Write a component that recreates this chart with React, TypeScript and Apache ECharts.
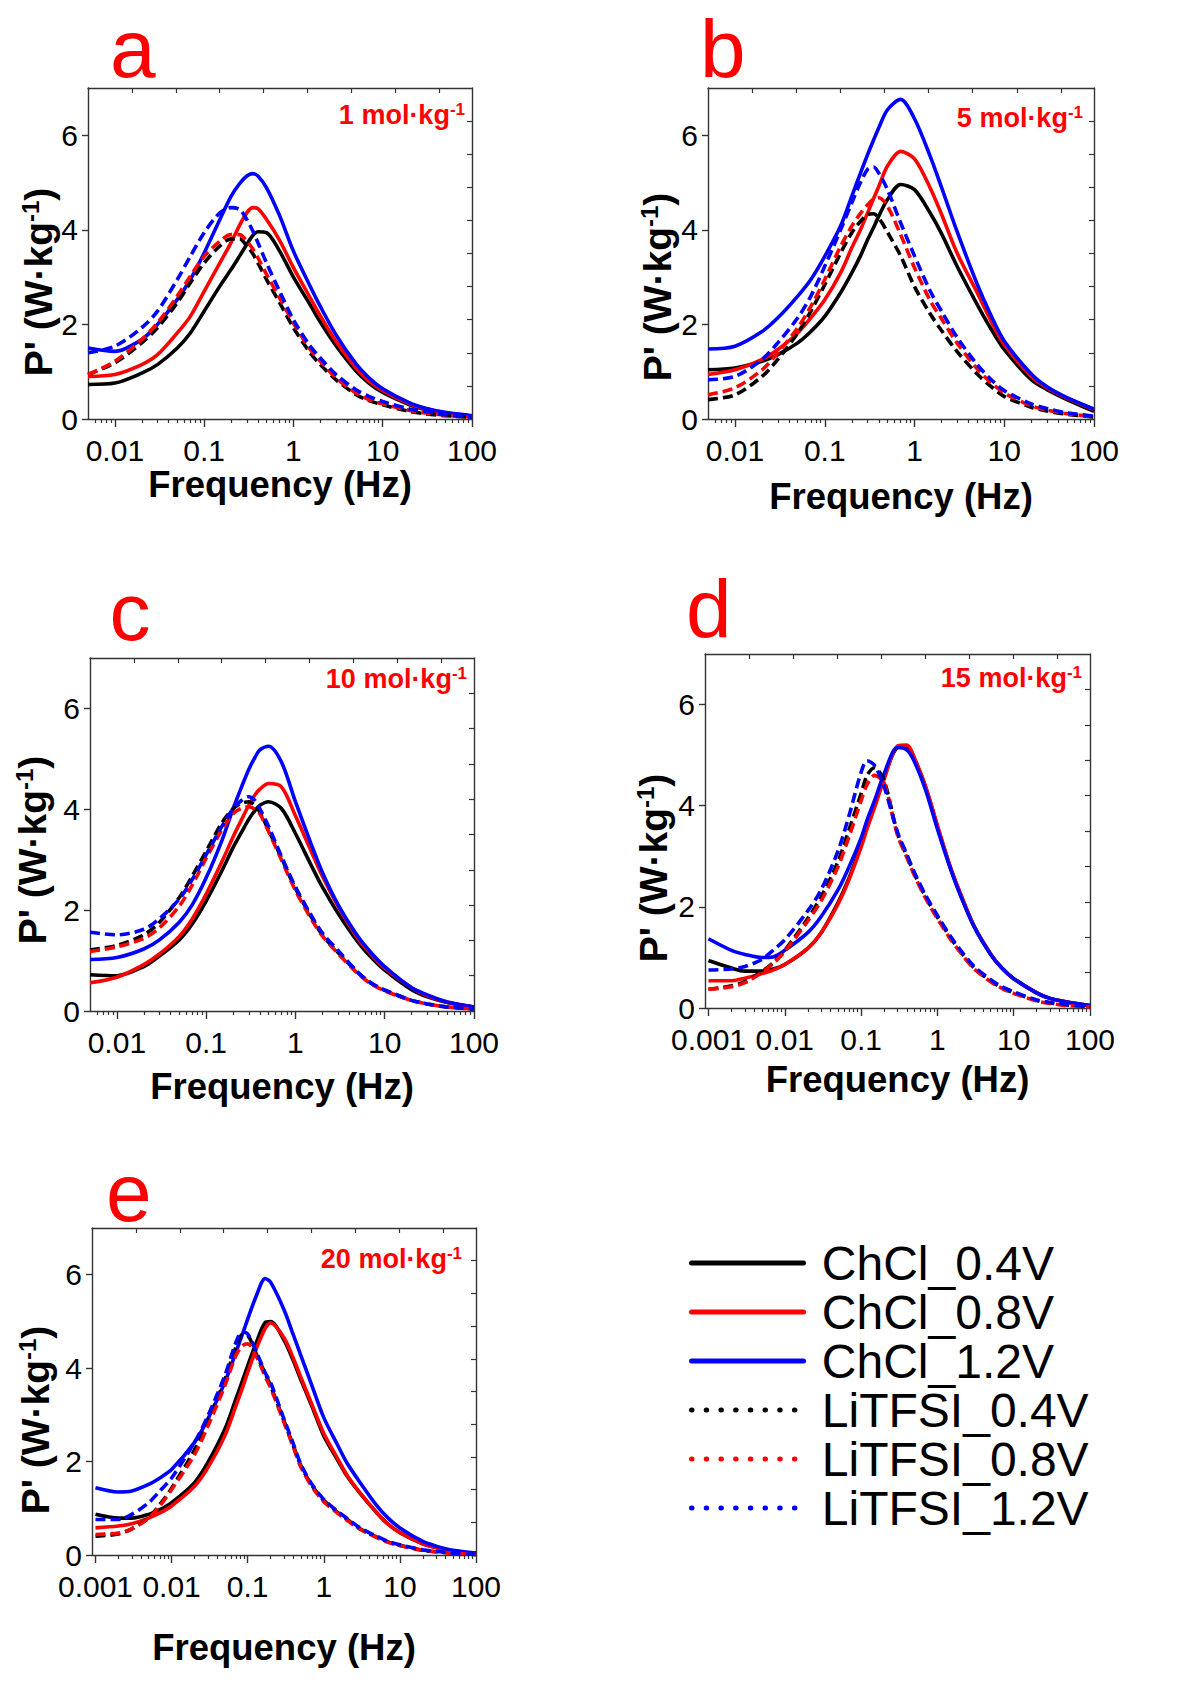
import React, { useEffect, useRef } from 'react';
import * as echarts from 'echarts';

const FONT = '"Liberation Sans", Arial, Helvetica, sans-serif';

// ---------------- data ----------------
const seriesNames = ['ChCl_0.4V', 'ChCl_0.8V', 'ChCl_1.2V', 'LiTFSI_0.4V', 'LiTFSI_0.8V', 'LiTFSI_1.2V'];
const panelLetters = ['a', 'b', 'c', 'd', 'e'];
const concentrations = ['1', '5', '10', '15', '20'];
const majorFreqs = [0.001, 0.01, 0.1, 1, 10, 100];
const majorLabels = ['0.001', '0.01', '0.1', '1', '10', '100'];
const yTickValues = [0, 2, 4, 6];

const freqABC = [0.005, 0.01, 0.02, 0.03, 0.05, 0.07, 0.1, 0.15, 0.2, 0.25, 0.3, 0.35, 0.4, 0.5, 0.7, 1, 1.5, 2, 3, 5, 7, 10, 20, 30, 50, 100];
const freqD = [0.001, 0.002, 0.003, 0.005, 0.007, 0.01, 0.02, 0.03, 0.05, 0.07, 0.1, 0.12, 0.15, 0.2, 0.3, 0.4, 0.5, 0.7, 1, 1.5, 2, 3, 5, 7, 10, 20, 30, 50, 100];
const freqE = [0.001, 0.002, 0.003, 0.005, 0.007, 0.01, 0.02, 0.03, 0.05, 0.07, 0.085, 0.1, 0.13, 0.17, 0.2, 0.3, 0.4, 0.5, 0.7, 1, 1.5, 2, 3, 5, 7, 10, 20, 30, 50, 100];

// panel a (1 mol/kg)
const chcl04A = [0.73, 0.76, 0.97, 1.15, 1.5, 1.82, 2.28, 2.81, 3.16, 3.45, 3.69, 3.88, 3.96, 3.94, 3.55, 3.0, 2.45, 2.05, 1.55, 1.02, 0.76, 0.56, 0.3, 0.2, 0.12, 0.06];
const chcl08A = [0.9, 0.94, 1.15, 1.36, 1.82, 2.17, 2.7, 3.3, 3.73, 4.1, 4.36, 4.47, 4.45, 4.22, 3.78, 3.2, 2.6, 2.18, 1.64, 1.08, 0.8, 0.6, 0.32, 0.22, 0.13, 0.06];
const chcl12A = [1.5, 1.43, 1.68, 2.0, 2.53, 2.95, 3.51, 4.22, 4.71, 4.98, 5.14, 5.19, 5.14, 4.89, 4.3, 3.55, 2.85, 2.38, 1.78, 1.17, 0.87, 0.64, 0.34, 0.23, 0.14, 0.07];
const li04A = [0.94, 1.19, 1.61, 1.93, 2.46, 2.88, 3.3, 3.66, 3.81, 3.81, 3.66, 3.5, 3.3, 2.95, 2.46, 1.93, 1.43, 1.15, 0.83, 0.52, 0.39, 0.3, 0.16, 0.11, 0.07, 0.04];
const li08A = [0.94, 1.22, 1.68, 2.03, 2.6, 3.02, 3.44, 3.76, 3.9, 3.9, 3.76, 3.6, 3.41, 3.06, 2.56, 2.03, 1.5, 1.22, 0.87, 0.55, 0.41, 0.32, 0.18, 0.13, 0.08, 0.04];
const li12A = [1.4, 1.54, 1.93, 2.28, 2.95, 3.44, 3.94, 4.36, 4.47, 4.43, 4.22, 3.98, 3.73, 3.3, 2.7, 2.1, 1.57, 1.29, 0.94, 0.62, 0.48, 0.37, 0.21, 0.16, 0.09, 0.04];

// panel b (5 mol/kg)
const chcl04B = [1.04, 1.08, 1.22, 1.36, 1.61, 1.85, 2.17, 2.67, 3.09, 3.45, 3.79, 4.05, 4.29, 4.64, 4.96, 4.85, 4.35, 3.92, 3.22, 2.42, 1.93, 1.47, 0.83, 0.62, 0.41, 0.16];
const chcl08B = [0.94, 1.04, 1.26, 1.47, 1.82, 2.14, 2.52, 3.09, 3.62, 4.0, 4.36, 4.66, 4.92, 5.35, 5.66, 5.5, 4.88, 4.33, 3.5, 2.67, 2.1, 1.57, 0.9, 0.66, 0.44, 0.2];
const chcl12B = [1.48, 1.54, 1.85, 2.14, 2.6, 2.95, 3.44, 4.08, 4.71, 5.2, 5.59, 5.9, 6.16, 6.54, 6.76, 6.35, 5.55, 4.9, 3.95, 2.85, 2.22, 1.65, 0.95, 0.68, 0.45, 0.21];
const li04B = [0.41, 0.51, 0.9, 1.26, 1.82, 2.28, 2.84, 3.51, 3.94, 4.18, 4.32, 4.34, 4.25, 3.95, 3.45, 2.8, 2.22, 1.87, 1.42, 0.95, 0.7, 0.48, 0.25, 0.17, 0.1, 0.04];
const li08B = [0.51, 0.66, 1.04, 1.4, 1.93, 2.38, 2.95, 3.65, 4.08, 4.35, 4.53, 4.65, 4.68, 4.5, 3.9, 3.2, 2.5, 2.12, 1.6, 1.06, 0.78, 0.55, 0.28, 0.19, 0.11, 0.05];
const li12B = [0.83, 0.9, 1.26, 1.61, 2.14, 2.6, 3.23, 4.0, 4.57, 5.0, 5.28, 5.33, 5.2, 4.85, 4.15, 3.45, 2.7, 2.28, 1.72, 1.15, 0.85, 0.6, 0.32, 0.22, 0.13, 0.06];

// panel c (10 mol/kg)
const chcl04C = [0.72, 0.7, 0.88, 1.09, 1.41, 1.73, 2.18, 2.78, 3.24, 3.55, 3.8, 3.97, 4.08, 4.15, 4.01, 3.52, 2.89, 2.46, 1.94, 1.37, 1.07, 0.81, 0.42, 0.28, 0.17, 0.08];
const chcl08C = [0.56, 0.67, 0.92, 1.13, 1.48, 1.83, 2.32, 2.96, 3.45, 3.8, 4.08, 4.28, 4.4, 4.51, 4.44, 3.87, 3.17, 2.68, 2.08, 1.44, 1.13, 0.85, 0.46, 0.3, 0.18, 0.08];
const chcl12C = [1.02, 1.06, 1.23, 1.41, 1.76, 2.11, 2.64, 3.38, 4.01, 4.45, 4.79, 5.02, 5.18, 5.25, 4.93, 4.15, 3.31, 2.75, 2.11, 1.48, 1.16, 0.88, 0.46, 0.32, 0.18, 0.08];
const li04C = [1.21, 1.3, 1.51, 1.76, 2.25, 2.68, 3.17, 3.73, 4.01, 4.12, 4.15, 4.08, 3.94, 3.59, 3.03, 2.43, 1.87, 1.51, 1.16, 0.76, 0.55, 0.41, 0.21, 0.14, 0.08, 0.04];
const li08C = [1.18, 1.27, 1.44, 1.65, 2.08, 2.5, 3.03, 3.59, 3.91, 4.02, 4.05, 4.0, 3.91, 3.56, 2.99, 2.39, 1.83, 1.49, 1.14, 0.74, 0.54, 0.4, 0.21, 0.14, 0.08, 0.04];
const li12C = [1.56, 1.51, 1.62, 1.83, 2.22, 2.61, 3.1, 3.66, 4.01, 4.18, 4.25, 4.18, 4.01, 3.66, 3.06, 2.46, 1.9, 1.55, 1.2, 0.77, 0.56, 0.42, 0.21, 0.14, 0.08, 0.04];

// panel d (15 mol/kg)
const chcl04D = [0.94, 0.79, 0.73, 0.73, 0.77, 0.86, 1.18, 1.49, 2.09, 2.58, 3.22, 3.58, 3.99, 4.56, 5.15, 5.17, 4.93, 4.37, 3.59, 2.75, 2.25, 1.63, 1.06, 0.79, 0.58, 0.3, 0.19, 0.12, 0.05];
const chcl08D = [0.54, 0.54, 0.59, 0.68, 0.75, 0.86, 1.18, 1.49, 2.06, 2.55, 3.18, 3.55, 3.96, 4.52, 5.18, 5.2, 4.94, 4.38, 3.61, 2.76, 2.27, 1.63, 1.07, 0.79, 0.58, 0.3, 0.19, 0.12, 0.05];
const chcl12D = [1.37, 1.14, 1.06, 1.0, 1.01, 1.14, 1.49, 1.81, 2.34, 2.8, 3.36, 3.72, 4.1, 4.63, 5.15, 5.1, 4.87, 4.31, 3.54, 2.73, 2.23, 1.62, 1.06, 0.79, 0.58, 0.3, 0.19, 0.12, 0.05];
const li04D = [0.37, 0.44, 0.52, 0.72, 0.89, 1.14, 1.77, 2.2, 2.9, 3.54, 4.24, 4.6, 4.75, 4.5, 3.45, 3.0, 2.65, 2.2, 1.8, 1.38, 1.12, 0.8, 0.53, 0.4, 0.3, 0.15, 0.1, 0.06, 0.03];
const li08D = [0.37, 0.42, 0.5, 0.7, 0.88, 1.12, 1.72, 2.12, 2.8, 3.4, 4.1, 4.42, 4.6, 4.45, 3.42, 2.97, 2.62, 2.17, 1.77, 1.35, 1.1, 0.78, 0.52, 0.39, 0.29, 0.14, 0.09, 0.05, 0.02];
const li12D = [0.75, 0.77, 0.82, 0.96, 1.14, 1.35, 1.92, 2.34, 3.11, 3.82, 4.66, 4.89, 4.8, 4.38, 3.48, 3.03, 2.68, 2.23, 1.83, 1.41, 1.15, 0.83, 0.56, 0.42, 0.32, 0.16, 0.11, 0.07, 0.03];

// panel e (20 mol/kg)
const chcl04E = [0.87, 0.79, 0.79, 0.87, 0.97, 1.12, 1.55, 1.98, 2.69, 3.34, 3.72, 4.05, 4.55, 4.98, 5.0, 4.6, 4.15, 3.75, 3.18, 2.55, 2.05, 1.7, 1.32, 0.9, 0.66, 0.48, 0.24, 0.16, 0.08, 0.03];
const chcl08E = [0.58, 0.62, 0.67, 0.79, 0.9, 1.05, 1.47, 1.87, 2.55, 3.19, 3.57, 3.91, 4.42, 4.85, 4.97, 4.65, 4.2, 3.8, 3.22, 2.6, 2.08, 1.72, 1.33, 0.9, 0.66, 0.48, 0.24, 0.16, 0.08, 0.03];
const chcl12E = [1.44, 1.35, 1.37, 1.51, 1.65, 1.83, 2.41, 2.91, 3.69, 4.34, 4.72, 5.05, 5.55, 5.92, 5.84, 5.25, 4.7, 4.27, 3.62, 2.94, 2.37, 1.98, 1.55, 1.05, 0.79, 0.58, 0.29, 0.19, 0.1, 0.04];
const li04E = [0.4, 0.45, 0.56, 0.8, 1.08, 1.43, 2.25, 2.88, 3.75, 4.45, 4.72, 4.7, 4.3, 3.88, 3.62, 2.87, 2.33, 1.91, 1.49, 1.17, 0.92, 0.77, 0.56, 0.38, 0.28, 0.21, 0.1, 0.07, 0.04, 0.01];
const li08E = [0.44, 0.47, 0.56, 0.79, 1.05, 1.4, 2.15, 2.76, 3.62, 4.27, 4.48, 4.52, 4.25, 3.82, 3.58, 2.84, 2.3, 1.88, 1.46, 1.14, 0.9, 0.75, 0.55, 0.37, 0.27, 0.2, 0.1, 0.07, 0.04, 0.01];
const li12E = [0.76, 0.76, 0.87, 1.12, 1.37, 1.65, 2.41, 2.98, 3.84, 4.55, 4.78, 4.73, 4.35, 3.9, 3.69, 2.91, 2.37, 1.94, 1.51, 1.19, 0.94, 0.79, 0.58, 0.4, 0.29, 0.22, 0.11, 0.08, 0.04, 0.01];

const panelFreqs = [freqABC, freqABC, freqABC, freqD, freqE];
const panelValues = [
  [chcl04A, chcl08A, chcl12A, li04A, li08A, li12A],
  [chcl04B, chcl08B, chcl12B, li04B, li08B, li12B],
  [chcl04C, chcl08C, chcl12C, li04C, li08C, li12C],
  [chcl04D, chcl08D, chcl12D, li04D, li08D, li12D],
  [chcl04E, chcl08E, chcl12E, li04E, li08E, li12E],
];

// ---------------- layout & style ----------------
const COLORS = ['#000000', '#ff0000', '#0000ff', '#000000', '#ff0000', '#0000ff'];
const DASHED = [false, false, false, true, true, true];
const AXIS_COLOR = '#333333';

const LAYOUT = [
  { left: 88, top: 88, width: 384, height: 331, xMin: 0.005, nameGap: 44, letter: [110, 48.6], conc: [465, 114.5], yName: [38, 282] },
  { left: 708, top: 88, width: 386, height: 331, xMin: 0.005, nameGap: 59, letter: [700, 48.6], conc: [1083, 117.5], yName: [657, 287] },
  { left: 90, top: 658, width: 384, height: 353, xMin: 0.005, nameGap: 57, letter: [109.5, 611.6], conc: [467, 678.5], yName: [32, 850] },
  { left: 705, top: 654, width: 385, height: 354, xMin: 0.0009, nameGap: 53, letter: [686, 608.6], conc: [1082, 677.5], yName: [653, 868] },
  { left: 92, top: 1228, width: 384, height: 327, xMin: 0.0009, nameGap: 74, letter: [106, 1192.6], conc: [462, 1258.5], yName: [35, 1420] },
];

function buildOption() {
  const grid: any[] = [];
  const xAxis: any[] = [];
  const yAxis: any[] = [];
  const series: any[] = [];
  const graphic: any[] = [];
  const axisLineStyle = { color: AXIS_COLOR, width: 1.4 };

  LAYOUT.forEach((L, i) => {
    grid.push({ left: L.left, top: L.top, width: L.width, height: L.height, containLabel: false });
    const lo = Math.log10(L.xMin);
    const hi = 2;
    const majors = majorFreqs.map((f) => Math.log10(f)).filter((v) => v >= lo - 1e-9 && v <= hi + 1e-9);
    const minors: number[] = [];
    for (let d = -4; d < 2; d++) {
      for (let k = 2; k <= 9; k++) {
        const v = Math.log10(k * Math.pow(10, d));
        if (v > lo && v < hi) minors.push(v);
      }
    }
    const xBase = xAxis.length;
    const yBase = yAxis.length;
    // bottom major axis with labels
    xAxis.push({
      gridIndex: i, type: 'value', position: 'bottom', min: lo, max: hi,
      axisLine: { show: true, onZero: false, lineStyle: axisLineStyle },
      axisTick: { show: true, inside: false, length: 8, customValues: majors, lineStyle: { color: AXIS_COLOR, width: 1.4 } },
      axisLabel: {
        show: true, customValues: majors, margin: 16, fontSize: 30, fontFamily: FONT, color: '#000',
        formatter: (v: number) => {
          const idx = majorFreqs.findIndex((f) => Math.abs(Math.log10(f) - v) < 1e-6);
          return idx >= 0 ? majorLabels[idx] : '';
        },
      },
      splitLine: { show: false },
      name: 'Frequency (Hz)', nameLocation: 'middle', nameGap: L.nameGap,
      nameTextStyle: { fontSize: 36.5, fontWeight: 'bold', fontFamily: FONT, color: '#000' },
    });
    // bottom minor ticks
    xAxis.push({
      gridIndex: i, type: 'value', position: 'bottom', min: lo, max: hi,
      axisLine: { show: false, onZero: false },
      axisTick: { show: true, inside: false, length: 4, customValues: minors, lineStyle: { color: AXIS_COLOR, width: 1.2 } },
      axisLabel: { show: false }, splitLine: { show: false },
    });
    // top mirror axis
    xAxis.push({
      gridIndex: i, type: 'value', position: 'top', min: 0, max: 8.75,
      axisLine: { show: true, onZero: false, lineStyle: axisLineStyle },
      axisTick: { show: true, inside: true, length: 5, customValues: [1, 2, 3, 4, 5, 6, 7, 8], lineStyle: { color: AXIS_COLOR, width: 1.2 } },
      axisLabel: { show: false }, splitLine: { show: false },
    });
    // left axis
    yAxis.push({
      gridIndex: i, type: 'value', position: 'left', min: 0, max: 7,
      axisLine: { show: true, onZero: false, lineStyle: axisLineStyle },
      axisTick: { show: true, inside: false, length: 6, customValues: yTickValues, lineStyle: { color: AXIS_COLOR, width: 1.4 } },
      axisLabel: { show: true, customValues: yTickValues, margin: 10, fontSize: 30, fontFamily: FONT, color: '#000' },
      splitLine: { show: false },
    });
    // right mirror axis
    yAxis.push({
      gridIndex: i, type: 'value', position: 'right', min: 0, max: 10,
      axisLine: { show: true, onZero: false, lineStyle: axisLineStyle },
      axisTick: { show: true, inside: true, length: 5, customValues: [1, 2, 3, 4, 5, 6, 7, 8, 9], lineStyle: { color: AXIS_COLOR, width: 1.2 } },
      axisLabel: { show: false }, splitLine: { show: false },
    });

    const freqs = panelFreqs[i];
    panelValues[i].forEach((vals, s) => {
      series.push({
        type: 'line',
        name: seriesNames[s],
        xAxisIndex: xBase,
        yAxisIndex: yBase,
        data: freqs.map((f, k) => [Math.log10(f), vals[k]]),
        symbol: 'none',
        showSymbol: false,
        smooth: 0.3,
        lineStyle: { color: COLORS[s], width: 3.6, type: DASHED[s] ? [10, 5] : 'solid', cap: 'butt' },
        itemStyle: { color: COLORS[s] },
        emphasis: { disabled: true },
        z: 2 + s,
      });
    });

    // panel letter
    graphic.push({
      type: 'text', x: L.letter[0], y: L.letter[1],
      style: { text: panelLetters[i], fontSize: 82, fontFamily: FONT, fill: '#ff0000', align: 'left', verticalAlign: 'middle' },
    });
    // concentration label
    graphic.push({
      type: 'text', x: L.conc[0], y: L.conc[1],
      style: {
        text: `{m|${concentrations[i]} mol·kg}{s|-1}`,
        align: 'right', verticalAlign: 'middle', fill: '#ff0000',
        rich: {
          m: { fontSize: 27, fontWeight: 'bold', fontFamily: FONT, fill: '#ff0000', lineHeight: 28 },
          s: { fontSize: 17, fontWeight: 'bold', fontFamily: FONT, fill: '#ff0000', verticalAlign: 'top' },
        },
      },
    });
    // y axis name
    graphic.push({
      type: 'text', x: L.yName[0], y: L.yName[1], rotation: Math.PI / 2,
      style: {
        text: "{m|P' (W·kg}{s|-1}{m|)}",
        align: 'center', verticalAlign: 'middle', fill: '#000',
        rich: {
          m: { fontSize: 39, fontWeight: 'bold', fontFamily: FONT, fill: '#000', lineHeight: 40 },
          s: { fontSize: 24, fontWeight: 'bold', fontFamily: FONT, fill: '#000', verticalAlign: 'top' },
        },
      },
    });
  });

  return {
    animation: false,
    backgroundColor: '#ffffff',
    grid,
    xAxis,
    yAxis,
    series,
    graphic,
    legend: {
      show: true,
      orient: 'vertical',
      left: 684,
      top: 1234,
      itemWidth: 112,
      itemHeight: 20,
      itemGap: 1,
      selectedMode: false,
      formatter: (n: string) => ' ' + n,
      textStyle: { fontSize: 48, fontFamily: FONT, color: '#000', lineHeight: 46 },
      data: seriesNames.map((n, s) => ({
        name: n,
        itemStyle: { color: 'rgba(0,0,0,0)', borderWidth: 0, opacity: 0 },
        lineStyle: {
          color: COLORS[s], width: 5, opacity: 1,
          type: DASHED[s] ? [0.5, 14.2] : 'solid',
          cap: 'round',
        },
      })),
    },
  };
}

export default function App() {
  const ref = useRef<HTMLDivElement>(null);
  useEffect(() => {
    if (!ref.current) return;
    const chart = echarts.init(ref.current, undefined, { renderer: 'svg' });
    chart.setOption(buildOption() as any);
    return () => chart.dispose();
  }, []);
  return (
    <div
      ref={ref}
      style={{ position: 'absolute', left: 0, top: 0, width: 1197, height: 1687, background: '#ffffff' }}
    />
  );
}
